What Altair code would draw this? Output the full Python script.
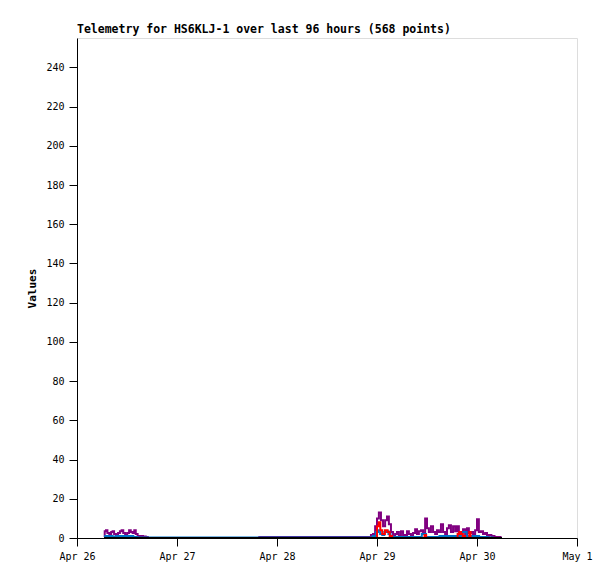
import altair as alt
import pandas as pd

# hours since Apr 26 00:00 UTC, values
purple_hours = [6.5, 6.8, 7.1, 7.5, 8.0, 8.4, 8.7, 9.1, 9.6, 10.1, 10.5, 10.9, 11.3, 11.8, 12.3, 12.7,
                13.1, 13.6, 13.9, 14.3, 14.8, 15.5, 16.2, 16.8, 17.2,
                70.3, 70.8, 71.3, 71.8, 72.2, 72.7, 73.2, 73.7, 74.2, 74.6, 75.1, 75.6, 76.1, 76.6, 77.0,
                77.5, 78.0, 78.5, 79.0, 79.4, 79.9, 80.4, 80.9, 81.4, 81.8, 82.3, 82.8, 83.3, 83.8, 84.2,
                84.7, 85.2, 85.7, 86.2, 86.6, 87.1, 87.6, 88.1, 88.6, 89.0, 89.5, 90.0, 90.5, 91.0, 91.4,
                91.9, 92.4, 92.9, 93.4, 93.8, 94.3, 94.8, 95.3, 95.8, 96.2, 96.7, 97.2, 97.7, 98.2, 98.6,
                99.1, 99.8, 100.6, 101.3, 102.0]
purple_vals = [0.5, 3.5, 4, 2.5, 1.5, 3, 3.5, 2, 1.5, 2.5, 3.5, 4, 2.5, 1.5, 2.5, 4,
               3, 2.5, 4, 2, 1, 1, 0.8, 0.5, 0,
               0.5, 1.5, 2, 6, 10, 13, 9, 6, 9, 11, 7, 3, 1, 2, 3,
               1, 3.5, 1.5, 1, 3.5, 2, 1, 2.5, 4.5, 2, 3.5, 4, 2.5, 10, 5,
               3, 6, 3, 2, 4, 3, 7, 3, 2, 5, 6.5, 3, 6, 3.5, 6,
               2, 3, 4.5, 2, 5, 2.5, 3, 2, 4, 9.5, 3, 3.5, 2, 2.5, 1,
               1.5, 1, 0.5, 0.5, 0]

blue_hours = [6.5, 7, 8, 9, 10, 11, 12, 13, 14, 15,
              70.5, 71.5, 72, 72.5, 73, 73.5, 74, 74.5, 75, 75.5, 76, 78, 80, 82, 83.5, 84, 86,
              88, 90, 92, 93, 94, 96, 97, 100]
blue_vals = [0.5, 1, 1, 0.8, 1, 1, 1, 1, 0.5, 0.3,
             0.3, 1, 3, 4, 2, 1.5, 3, 3.5, 2, 1, 0.5, 0.5, 0.5, 0.5, 2, 0.5, 0.5,
             1, 1, 1, 3, 1, 1, 0.5, 0.3]

red_hours = [71.8, 72.2, 72.6, 73.0, 73.5, 74.3, 74.8, 75.3, 76.0,
             83.2, 83.6, 84.0, 91.2, 91.5, 92.0, 92.4, 92.8, 93.5, 94.0, 94.3, 94.6]
red_vals = [1, 6, 8, 4, 2, 4, 3, 1, 0,
            0, 1.5, 0, 0, 2, 3, 2, 1, 0, 0, 3, 0]

black_hours = [6.5, 102.0]
black_vals = [0, 0]

y_ticks = list(range(0, 241, 20))
day_labels = ["Apr 26", "Apr 27", "Apr 28", "Apr 29", "Apr 30", "May 1"]

BASE = pd.Timestamp("2024-04-26T00:00:00Z").value // 10**6
H = 3600 * 1000
MONO = "DejaVu Sans Mono"


def frame(hours, vals, name):
    return pd.DataFrame({"t": [BASE + h * H for h in hours], "v": vals, "s": name})


df = pd.concat([
    frame(purple_hours, purple_vals, "a_purple"),
    frame(blue_hours, blue_vals, "b_blue"),
    frame(red_hours, red_vals, "c_red"),
    frame(black_hours, black_vals, "d_black"),
])

day_ticks = [BASE + i * 24 * H for i in range(6)]

x = alt.X("t:Q", scale=alt.Scale(domain=[BASE, BASE + 5 * 24 * H], nice=False, zero=False),
          axis=alt.Axis(values=day_ticks, title=None,
                        labelExpr="utcFormat(datum.value, '%b %-d')",
                        labelFont=MONO, labelFontSize=10, labelColor="black", labelFlush=False,
                        tickSize=8, labelPadding=5, grid=False,
                        domainColor="black", tickColor="black"))
y = alt.Y("v:Q", scale=alt.Scale(domain=[0, 255], nice=False),
          axis=alt.Axis(values=y_ticks, title="Values", tickSize=8, labelPadding=5,
                        labelFont=MONO, labelFontSize=10, labelColor="black",
                        titleFont=MONO, titleFontSize=11, titleFontWeight="bold", titleColor="black",
                        titlePadding=8, grid=False, domainColor="black", tickColor="black"))

layers = []
for name, color, w in [("a_purple", "#800080", 2), ("b_blue", "#0070c8", 2),
                       ("c_red", "#ff0000", 2), ("d_black", "#000000", 2)]:
    layers.append(
        alt.Chart(df).transform_filter(alt.datum.s == name)
        .mark_line(color=color, strokeWidth=w, clip=True, interpolate="step")
        .encode(x=x, y=y)
    )

chart = alt.layer(*layers).properties(
    width=500, height=500,
    title=alt.TitleParams("Telemetry for HS6KLJ-1 over last 96 hours (568 points)",
                          anchor="start", frame="group", font=MONO, fontSize=11.5,
                          fontWeight="bold", color="black", offset=3),
    padding={"left": 69, "top": 30, "right": 20, "bottom": 30},
    autosize=alt.AutoSizeParams(type="none"),
).configure_view(stroke="black", strokeWidth=1).configure(background="white")

chart.save("out.html", embed_options={"renderer": "svg", "actions": False})
